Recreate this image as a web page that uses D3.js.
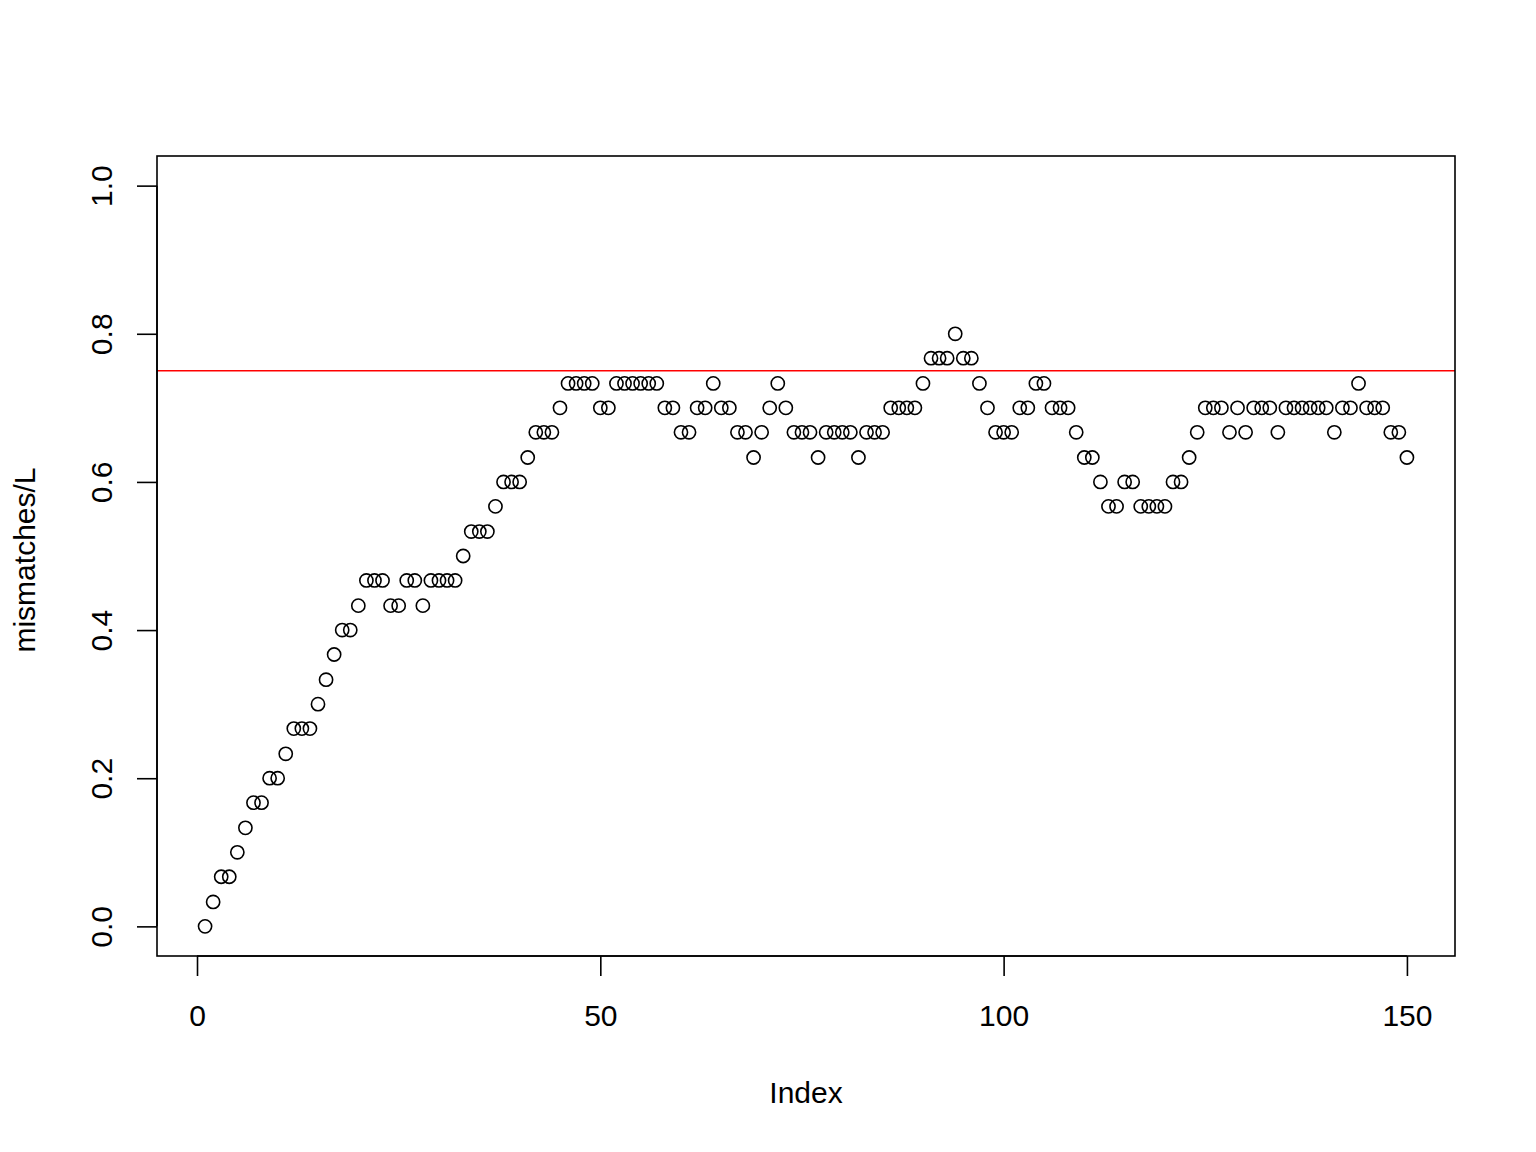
<!DOCTYPE html>
<html>
<head>
<meta charset="utf-8">
<script src="https://cdn.jsdelivr.net/npm/d3@7"></script>
<style>
  html, body { margin: 0; padding: 0; background: #fff; }
  svg { display: block; }
  text { font-family: "Liberation Sans", Arial, sans-serif; fill: #000; }
</style>
</head>
<body>
<script>
// ---- data ----
const values = [
  0, 0.033, 0.067, 0.067, 0.1, 0.133, 0.167, 0.167, 0.2, 0.2,
  0.233, 0.267, 0.267, 0.267, 0.3, 0.333, 0.367, 0.4, 0.4, 0.433,
  0.467, 0.467, 0.467, 0.433, 0.433, 0.467, 0.467, 0.433, 0.467, 0.467,
  0.467, 0.467, 0.5, 0.533, 0.533, 0.533, 0.567, 0.6, 0.6, 0.6,
  0.633, 0.667, 0.667, 0.667, 0.7, 0.733, 0.733, 0.733, 0.733, 0.7,
  0.7, 0.733, 0.733, 0.733, 0.733, 0.733, 0.733, 0.7, 0.7, 0.667,
  0.667, 0.7, 0.7, 0.733, 0.7, 0.7, 0.667, 0.667, 0.633, 0.667,
  0.7, 0.733, 0.7, 0.667, 0.667, 0.667, 0.633, 0.667, 0.667, 0.667,
  0.667, 0.633, 0.667, 0.667, 0.667, 0.7, 0.7, 0.7, 0.7, 0.733,
  0.767, 0.767, 0.767, 0.8, 0.767, 0.767, 0.733, 0.7, 0.667, 0.667,
  0.667, 0.7, 0.7, 0.733, 0.733, 0.7, 0.7, 0.7, 0.667, 0.633,
  0.633, 0.6, 0.567, 0.567, 0.6, 0.6, 0.567, 0.567, 0.567, 0.567,
  0.6, 0.6, 0.633, 0.667, 0.7, 0.7, 0.7, 0.667, 0.7, 0.667,
  0.7, 0.7, 0.7, 0.667, 0.7, 0.7, 0.7, 0.7, 0.7, 0.7,
  0.667, 0.7, 0.7, 0.733, 0.7, 0.7, 0.7, 0.667, 0.667, 0.633
];
const xTicks = [0, 50, 100, 150];
const yTicks = [0.0, 0.2, 0.4, 0.6, 0.8, 1.0];
const yTickLabels = ["0.0", "0.2", "0.4", "0.6", "0.8", "1.0"];
const refLine = 0.75;
const xLabel = "Index";
const yLabel = "mismatches/L";

// ---- layout ----
const W = 1536, H = 1152;
const mLeft = 157, mRight = 1455, mTop = 156, mBottom = 956;
const fontSize = 30;

const n = values.length;
const xPad = (n - 1) * 0.04;
const x = d3.scaleLinear().domain([1 - xPad, n + xPad]).range([mLeft, mRight]);
const y = d3.scaleLinear().domain([-0.04, 1.04]).range([mBottom, mTop]);

const svg = d3.select("body").append("svg")
  .attr("width", W).attr("height", H);

svg.append("rect").attr("width", W).attr("height", H).attr("fill", "#fff");

// clip for plot region
svg.append("clipPath").attr("id", "plotclip")
  .append("rect").attr("x", mLeft).attr("y", mTop)
  .attr("width", mRight - mLeft).attr("height", mBottom - mTop);

// points
svg.append("g").selectAll("circle")
  .data(values)
  .join("circle")
  .attr("cx", (d, i) => x(i + 1))
  .attr("cy", d => y(d))
  .attr("r", 6.6)
  .attr("fill", "none")
  .attr("stroke", "#000")
  .attr("stroke-width", 1.6);

// reference line
svg.append("line")
  .attr("clip-path", "url(#plotclip)")
  .attr("x1", mLeft).attr("x2", mRight)
  .attr("y1", y(refLine)).attr("y2", y(refLine))
  .attr("stroke", "#ff0000")
  .attr("stroke-width", 1.6);

// x axis
const xAxis = d3.axisBottom(x).tickValues(xTicks).tickSize(20).tickPadding(0)
  .tickFormat(d3.format("d"));
const gx = svg.append("g").attr("transform", `translate(0,${mBottom})`).call(xAxis);
gx.select(".domain").attr("d", `M${x(xTicks[0])},0H${x(xTicks[xTicks.length - 1])}`)
  .attr("stroke-width", 1.6);
gx.selectAll(".tick line").attr("stroke-width", 1.6);
gx.selectAll(".tick text")
  .attr("y", 70).attr("dy", null)
  .style("font-size", fontSize + "px")
  .style("font-family", "'Liberation Sans', Arial, sans-serif")
  .attr("fill", "#000");

// y axis
const yAxis = d3.axisLeft(y).tickValues(yTicks).tickSize(20)
  .tickFormat((d, i) => yTickLabels[i]);
const gy = svg.append("g").attr("transform", `translate(${mLeft},0)`).call(yAxis);
gy.select(".domain").attr("d", `M0,${y(yTicks[0])}V${y(yTicks[yTicks.length - 1])}`)
  .attr("stroke-width", 1.6);
gy.selectAll(".tick line").attr("stroke-width", 1.6);
gy.selectAll(".tick text")
  .attr("x", null).attr("dy", null)
  .attr("text-anchor", "middle")
  .attr("transform", `translate(${112 - mLeft},0) rotate(-90)`)
  .style("font-size", fontSize + "px")
  .style("font-family", "'Liberation Sans', Arial, sans-serif")
  .attr("fill", "#000");

// frame
svg.append("rect")
  .attr("x", mLeft).attr("y", mTop)
  .attr("width", mRight - mLeft).attr("height", mBottom - mTop)
  .attr("fill", "none").attr("stroke", "#000").attr("stroke-width", 1.6);

// axis titles
svg.append("text")
  .attr("x", (mLeft + mRight) / 2).attr("y", 1103)
  .attr("text-anchor", "middle")
  .style("font-size", fontSize + "px")
  .text(xLabel);

svg.append("text")
  .attr("transform", `translate(35,${(mTop + mBottom) / 2 + 4}) rotate(-90)`)
  .attr("text-anchor", "middle")
  .style("font-size", fontSize + "px")
  .text(yLabel);
</script>
</body>
</html>
